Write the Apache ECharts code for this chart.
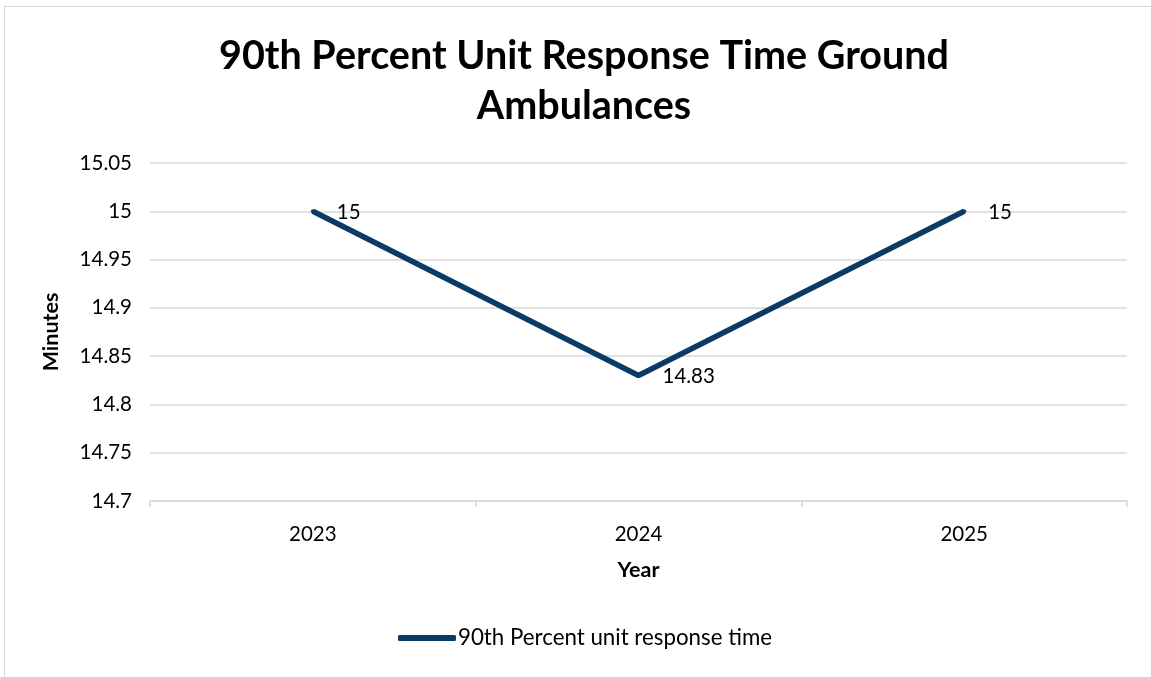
<!DOCTYPE html>
<html>
<head>
<meta charset="utf-8">
<style>
  html, body { margin: 0; padding: 0; background: #fff; }
  #frame { position: absolute; left: 4px; top: 6px; width: 1160px; height: 690px;
           border-left: 1px solid #d9d9d9; border-top: 1px solid #d9d9d9; }
  #chart { position: absolute; left: 0; top: 0; width: 1151px; height: 677px; }
</style>
<script src="https://cdn.jsdelivr.net/npm/echarts@6/dist/echarts.min.js"></script>
</head>
<body>
<div id="frame"></div>
<div id="chart"></div>
<script>
// Yearly 90th percentile unit response time, ground ambulances (minutes)
const years = ['2023', '2024', '2025'];
const responseMinutes = [15, 14.83, 15];
const seriesName = '90th Percent unit response time';
const titleText = '90th Percent Unit Response Time Ground\nAmbulances';

const FONT = 'Lato, "Open Sans", sans-serif';
const NAVY = '#0b3a66';

const chart = echarts.init(document.getElementById('chart'), null, { renderer: 'canvas' });
chart.setOption({
  backgroundColor: 'transparent',
  animation: false,
  title: {
    text: titleText,
    left: 579,
    textAlign: 'center',
    top: 26,
    textStyle: { fontFamily: FONT, fontWeight: 'bold', fontSize: 39.5, lineHeight: 50, color: '#000' }
  },
  grid: { left: 150, right: 24, top: 163, bottom: 176 },
  xAxis: {
    type: 'category',
    data: years,
    boundaryGap: true,
    name: 'Year',
    nameLocation: 'middle',
    nameGap: 58,
    nameTextStyle: { fontFamily: FONT, fontWeight: 'bold', fontSize: 21.5, color: '#000' },
    axisLine: { lineStyle: { color: '#d9d9d9', width: 1.5 } },
    axisTick: { show: true, length: 6, lineStyle: { color: '#d9d9d9', width: 1.5 } },
    axisLabel: { fontFamily: FONT, fontSize: 20.5, color: '#000', margin: 23 }
  },
  yAxis: {
    type: 'value',
    min: 14.7,
    max: 15.05,
    interval: 0.05,
    name: 'Minutes',
    nameLocation: 'middle',
    nameGap: 88,
    nameTextStyle: { fontFamily: FONT, fontWeight: 'bold', fontSize: 21.5, color: '#000' },
    axisLine: { show: false },
    axisTick: { show: false },
    splitLine: { lineStyle: { color: '#d9d9d9', width: 1.5 } },
    axisLabel: {
      fontFamily: FONT, fontSize: 20.5, color: '#000', margin: 18,
      formatter: v => String(parseFloat(v.toFixed(2)))
    }
  },
  legend: {
    data: [seriesName],
    bottom: 23,
    left: 393,
    icon: 'roundRect',
    itemWidth: 58,
    itemHeight: 6,
    itemStyle: { color: NAVY, opacity: 1 },
    textStyle: { fontFamily: FONT, fontSize: 22.3, color: '#000', padding: [0, 0, 0, -3] }
  },
  series: [{
    name: seriesName,
    type: 'line',
    data: responseMinutes,
    symbol: 'circle',
    symbolSize: 4,
    showSymbol: true,
    lineStyle: { color: NAVY, width: 5.5 },
    itemStyle: { color: NAVY },
    label: {
      show: true,
      position: 'right',
      distance: 22,
      offset: [0, 1],
      fontFamily: FONT,
      fontSize: 20.5,
      color: '#000',
      formatter: p => String(p.value)
    }
  }]
});
</script>
</body>
</html>
